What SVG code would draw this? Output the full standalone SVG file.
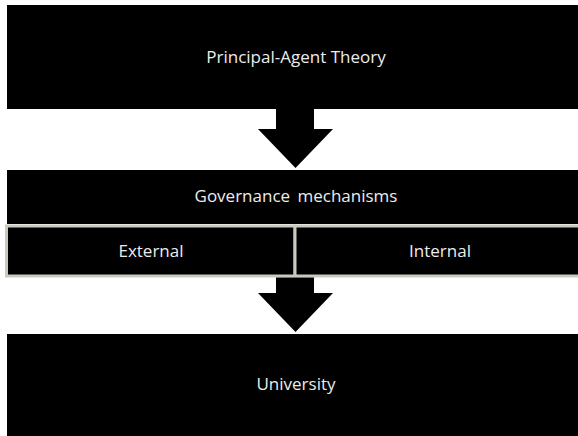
<svg xmlns="http://www.w3.org/2000/svg" width="578" height="436" viewBox="0 0 578 436">
  <style>
    .box { fill: #000000; }
    .cell { fill: #000000; stroke: #c9c9bf; stroke-width: 3; }
    .label { fill: #ececec; font-family: "Open Sans", "Liberation Sans", sans-serif; font-size: 17px; text-anchor: middle; }
    .arrow { fill: #000000; }
  </style>
  <rect x="0" y="0" width="578" height="436" fill="#ffffff"/>

  <g id="node-theory">
    <rect class="box" x="7" y="5" width="571" height="104"/>
    <text class="label" x="296" y="63">Principal-Agent Theory</text>
  </g>

  <g id="node-governance">
    <rect class="box" x="7" y="170" width="571" height="54"/>
    <text class="label" x="296" y="202" word-spacing="3">Governance mechanisms</text>
  </g>

  <g id="node-external">
    <rect class="cell" x="6.5" y="226" width="288.5" height="50"/>
    <text class="label" x="151" y="257">External</text>
  </g>

  <g id="node-internal">
    <rect class="cell" x="295" y="226" width="286" height="50" stroke="#c4c4ca"/>
    <text class="label" x="440" y="257">Internal</text>
  </g>

  <g id="node-university">
    <rect class="box" x="7" y="334" width="571" height="102"/>
    <text class="label" x="296" y="390">University</text>
  </g>

  <g id="connectors">
    <polygon class="arrow" points="276,109 314,109 314,129 333,129 295.5,168 258,129 276,129"/>
    <polygon class="arrow" points="276,277.5 314,277.5 314,293 333,293 295.5,332 258,293 276,293"/>
  </g>
</svg>
